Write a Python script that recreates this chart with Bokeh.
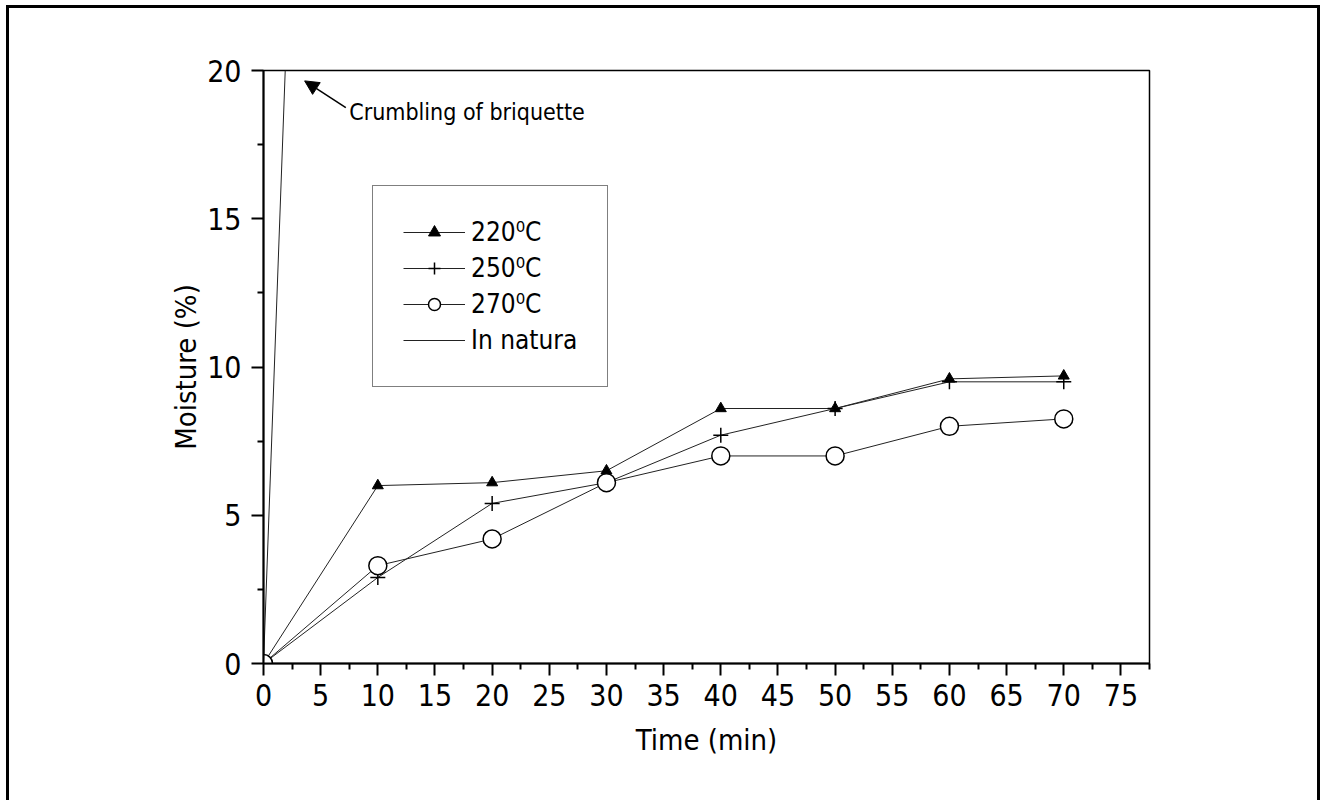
from bokeh.plotting import figure
from bokeh.models import Legend, LegendItem, Arrow, NormalHead, Label, FixedTicker, Range1d
from bokeh.embed import file_html
from bokeh.resources import INLINE

# ---- data ----
time_min = [0, 10, 20, 30, 40, 50, 60, 70]
moist_220 = [0, 6.0, 6.1, 6.5, 8.6, 8.6, 9.6, 9.7]
moist_250 = [0, 2.9, 5.4, 6.1, 7.7, 8.6, 9.5, 9.5]
moist_270 = [0, 3.3, 4.2, 6.1, 7.0, 7.0, 8.0, 8.25]
natura_time = [0, 1.9]
natura_moist = [0, 20]
x_major = [0, 5, 10, 15, 20, 25, 30, 35, 40, 45, 50, 55, 60, 65, 70, 75]
x_minor = [2.5, 7.5, 12.5, 17.5, 22.5, 27.5, 32.5, 37.5, 42.5, 47.5, 52.5, 57.5, 62.5, 67.5, 72.5, 77.5]
y_major = [0, 5, 10, 15, 20]
y_minor = [2.5, 7.5, 12.5, 17.5]
series_labels = ["220\u2070C", "250\u2070C", "270\u2070C", "In natura"]
annot_text = "Crumbling of briquette"
annot_tip = (3.6, 19.65)
annot_tail = (7.2, 18.75)
annot_pos = (7.5, 18.6)

FONT = "DejaVu Sans Condensed"

p = figure(width=1314, height=795, output_backend="svg", toolbar_location=None,
           x_range=Range1d(0, 77.5), y_range=Range1d(0, 20),
           min_border_left=254, min_border_right=174, min_border_top=62, min_border_bottom=140)
p.styles = {"border-left": "3px solid black", "border-top": "3px solid black",
            "border-right": "3px solid black", "margin-left": "6px", "margin-top": "5px"}
p.grid.visible = False
p.outline_line_color = "black"
p.outline_line_width = 1.5

xa = p.xaxis[0]
xa.ticker = FixedTicker(ticks=x_major, minor_ticks=x_minor)
ya = p.yaxis[0]
ya.ticker = FixedTicker(ticks=y_major, minor_ticks=y_minor)
for ax in (xa, ya):
    ax.axis_line_width = 2
    ax.axis_line_color = "black"
    ax.major_tick_line_width = 2
    ax.minor_tick_line_width = 2
    ax.major_tick_line_color = "black"
    ax.minor_tick_line_color = "black"
    ax.major_tick_out = 12
    ax.major_tick_in = 0
    ax.minor_tick_out = 6
    ax.minor_tick_in = 0
    ax.major_label_text_font = FONT
    ax.major_label_text_font_size = "30px"
    ax.major_label_text_color = "black"
    ax.axis_label_text_font = FONT
    ax.axis_label_text_font_size = "29px"
    ax.axis_label_text_font_style = "normal"
    ax.axis_label_text_color = "black"
xa.axis_label = "Time (min)"
ya.axis_label = "Moisture (%)"
xa.major_label_standoff = 8
ya.major_label_standoff = 10
xa.axis_label_standoff = 14
ya.axis_label_standoff = 1

lc = "#222222"
l220 = p.line(time_min, moist_220, line_color=lc, line_width=1)
s220 = p.scatter(time_min, moist_220, marker="triangle", size=11, fill_color="black", line_color="black")
l250 = p.line(time_min, moist_250, line_color=lc, line_width=1)
s250 = p.scatter(time_min, moist_250, marker="cross", size=15, line_color="black", line_width=1.5)
l270 = p.line(time_min, moist_270, line_color=lc, line_width=1)
s270 = p.scatter(time_min, moist_270, marker="circle", size=18, fill_color="white", line_color="black", line_width=1.5)
lnat = p.line(natura_time, natura_moist, line_color=lc, line_width=1)

legend = Legend(items=[
    LegendItem(label=series_labels[0], renderers=[l220, s220]),
    LegendItem(label=series_labels[1], renderers=[l250, s250]),
    LegendItem(label=series_labels[2], renderers=[l270, s270]),
    LegendItem(label=series_labels[3], renderers=[lnat]),
], location=(109, 276))
legend.label_text_font = FONT
legend.label_text_font_size = "26px"
legend.label_text_color = "black"
legend.glyph_width = 62
legend.glyph_height = 30
legend.label_standoff = 6
legend.label_height = 32
legend.spacing = 4
legend.padding = 30
legend.border_line_color = "black"
legend.border_line_width = 1
legend.background_fill_alpha = 1
p.add_layout(legend)

p.add_layout(Arrow(end=NormalHead(size=14, fill_color="black", line_color="black"),
                   x_start=annot_tail[0], y_start=annot_tail[1], x_end=annot_tip[0], y_end=annot_tip[1],
                   line_width=1.5, line_color="black"))
p.add_layout(Label(x=annot_pos[0], y=annot_pos[1], text=annot_text, text_font=FONT,
                   text_font_size="23px", text_baseline="middle", text_align="left", text_color="black"))

open("out.html", "w").write(file_html(p, INLINE))
